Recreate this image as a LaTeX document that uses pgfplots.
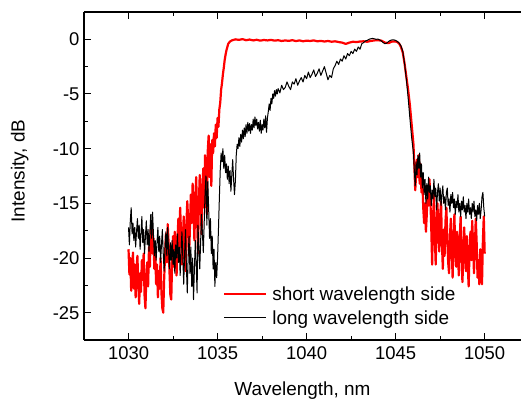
\documentclass[border=0pt]{standalone}
\usepackage{fontspec}
\setmainfont{Liberation Sans}
\usepackage{pgfplots}
\pgfplotsset{compat=1.18}
\begin{document}
\begin{tikzpicture}
\begin{axis}[
 scale only axis, width=437bp, height=328bp,
 xmin=1027.5, xmax=1052.04, ymin=-27.5, ymax=2.5,
 xtick={1030,1035,1040,1045,1050}, ytick={-25,-20,-15,-10,-5,0},
 minor x tick num=1, minor y tick num=1,
 separate axis lines, axis x line*=box, axis y line*=left,
 tick align=inside, xtick pos=both, ytick pos=left, xticklabel pos=bottom,
 major tick length=7bp, minor tick length=4bp,
 every tick/.style={black, line width=1bp},
 axis line style={line width=1.2bp, black, -},
 /pgf/number format/assume math mode=true,
 /pgf/number format/1000 sep={},
 ticklabel style={font=\fontsize{18.5}{22}\selectfont},
 yticklabel style={xshift=-1bp},
 xticklabel style={yshift=-3bp},
 xlabel={Wavelength, nm}, ylabel={Intensity, dB},
 label style={font=\fontsize{19}{22}\selectfont},
 xlabel style={at={(axis description cs:0.5,-0.153)}, anchor=center},
 ylabel style={at={(axis description cs:-0.147,0.515)}, anchor=center, rotate=0},
 legend style={draw=none, fill=none, at={(rel axis cs:0.318,0.169)}, anchor=north west,
   font=\fontsize{19}{22}\selectfont, inner sep=0pt, row sep=4.4bp, cells={anchor=west},
   /tikz/every odd column/.append style={column sep=3bp}},
 legend image code/.code={\draw[#1] (0bp,0bp) -- (42bp,0bp);},
]
\coordinate (SW) at (rel axis cs:0,0);
\coordinate (NE) at (rel axis cs:1,1);
\addplot[red, line width=2.2bp, line join=round] table {
x y
1030.00 -19.2
1030.05 -21.5
1030.10 -20.0
1030.15 -23.0
1030.20 -21.2
1030.25 -19.5
1030.30 -22.8
1030.35 -20.6
1030.40 -23.6
1030.45 -21.0
1030.50 -19.8
1030.55 -22.5
1030.60 -24.2
1030.65 -21.4
1030.70 -23.1
1030.75 -20.2
1030.80 -22.0
1030.85 -19.6
1030.90 -23.4
1030.95 -24.6
1031.00 -21.8
1031.05 -20.4
1031.10 -22.6
1031.15 -19.0
1031.20 -20.8
1031.25 -17.4
1031.30 -16.8
1031.35 -19.6
1031.40 -18.2
1031.45 -21.0
1031.50 -19.4
1031.55 -22.4
1031.60 -20.6
1031.65 -23.6
1031.70 -21.2
1031.75 -22.8
1031.80 -20.0
1031.85 -23.2
1031.90 -24.6
1031.95 -25.0
1032.00 -22.0
1032.05 -19.8
1032.10 -17.8
1032.15 -20.4
1032.20 -16.9
1032.25 -18.6
1032.30 -21.2
1032.35 -23.4
1032.40 -23.8
1032.45 -20.2
1032.50 -18.0
1032.55 -20.8
1032.60 -17.6
1032.65 -19.4
1032.70 -21.6
1032.75 -18.2
1032.80 -16.4
1032.85 -19.0
1032.90 -15.4
1032.95 -17.8
1033.00 -20.6
1033.05 -18.4
1033.10 -16.2
1033.15 -19.6
1033.20 -21.2
1033.25 -17.0
1033.30 -14.8
1033.35 -16.6
1033.40 -19.8
1033.45 -17.2
1033.50 -14.2
1033.55 -16.8
1033.60 -13.2
1033.65 -15.6
1033.70 -18.4
1033.75 -14.6
1033.80 -12.6
1033.85 -16.2
1033.90 -19.6
1033.95 -15.0
1034.00 -12.4
1034.05 -14.2
1034.10 -17.8
1034.15 -13.6
1034.20 -11.8
1034.25 -15.4
1034.30 -10.6
1034.35 -12.8
1034.40 -16.0
1034.45 -10.2
1034.50 -8.8
1034.55 -12.6
1034.60 -9.6
1034.65 -13.4
1034.70 -9.2
1034.75 -10.4
1034.80 -8.6
1034.85 -9.8
1034.90 -7.8
1034.95 -9.0
1035.00 -7.2
1035.05 -8.0
1035.10 -6.4
1035.15 -5.8
1035.20 -4.6
1035.25 -4.0
1035.30 -3.2
1035.35 -2.6
1035.40 -1.9
1035.45 -1.4
1035.50 -1.0
1035.55 -0.7
1035.60 -0.4
1035.70 -0.2
1035.80 -0.1
1035.90 -0.05
1036.0 0.0
1036.2 -0.05
1036.4 0.02
1036.6 -0.08
1036.8 -0.02
1037.0 -0.1
1037.2 -0.04
1037.4 -0.12
1037.6 -0.06
1037.8 -0.1
1038.0 -0.05
1038.2 -0.12
1038.4 -0.08
1038.6 -0.15
1038.8 -0.1
1039.0 -0.14
1039.2 -0.08
1039.4 -0.16
1039.6 -0.1
1039.8 -0.18
1040.0 -0.12
1040.2 -0.15
1040.4 -0.1
1040.6 -0.18
1040.8 -0.14
1041.0 -0.2
1041.2 -0.15
1041.4 -0.22
1041.6 -0.18
1041.8 -0.25
1042.0 -0.3
1042.2 -0.42
1042.4 -0.3
1042.6 -0.22
1042.8 -0.25
1043.0 -0.2
1043.2 -0.18
1043.4 -0.22
1043.6 -0.15
1043.8 -0.1
1044.0 -0.08
1044.2 -0.12
1044.4 -0.3
1044.6 -0.35
1044.8 -0.2
1045.0 -0.2
1045.1 -0.25
1045.2 -0.4
1045.3 -0.7
1045.4 -1.2
1045.5 -2.2
1045.6 -3.4
1045.7 -4.6
1045.8 -6.0
1045.9 -7.8
1046.00 -9.6
1046.05 -11.5
1046.10 -13.8
1046.15 -12.4
1046.20 -11.0
1046.25 -12.6
1046.30 -10.6
1046.35 -13.2
1046.40 -11.4
1046.45 -14.0
1046.50 -12.8
1046.55 -15.4
1046.60 -16.8
1046.65 -15.0
1046.70 -17.6
1046.75 -16.0
1046.80 -13.4
1046.85 -15.2
1046.90 -12.8
1046.95 -14.6
1047.00 -17.2
1047.05 -20.6
1047.10 -16.4
1047.15 -14.2
1047.20 -18.0
1047.25 -20.6
1047.30 -16.8
1047.35 -15.0
1047.40 -17.8
1047.45 -19.4
1047.50 -16.2
1047.55 -14.8
1047.60 -18.6
1047.65 -21.0
1047.70 -17.4
1047.75 -19.8
1047.80 -16.6
1047.85 -15.4
1047.90 -18.2
1047.95 -20.4
1048.00 -21.4
1048.05 -18.0
1048.10 -16.4
1048.15 -19.2
1048.20 -21.8
1048.25 -18.4
1048.30 -16.0
1048.35 -19.6
1048.40 -20.8
1048.45 -17.6
1048.50 -19.8
1048.55 -21.6
1048.60 -18.2
1048.65 -16.2
1048.70 -19.4
1048.75 -22.2
1048.80 -20.0
1048.85 -17.2
1048.90 -19.6
1048.95 -21.2
1049.00 -18.0
1049.05 -20.6
1049.10 -22.6
1049.15 -19.4
1049.20 -17.6
1049.25 -20.2
1049.30 -16.6
1049.35 -18.8
1049.40 -21.4
1049.45 -19.0
1049.50 -16.4
1049.55 -18.6
1049.60 -21.8
1049.65 -20.2
1049.70 -22.4
1049.75 -19.2
1049.80 -21.6
1049.85 -22.4
1049.90 -18.4
1049.95 -16.2
1050.00 -19.6
};
\addlegendentry{short wavelength side}
\addplot[black, line width=1bp, line join=round] table {
x y
1030.00 -17.2
1030.05 -18.8
1030.10 -16.6
1030.15 -15.4
1030.20 -17.8
1030.25 -16.8
1030.30 -18.4
1030.35 -17.2
1030.40 -19.0
1030.45 -17.6
1030.50 -16.4
1030.55 -18.2
1030.60 -17.0
1030.65 -19.2
1030.70 -17.8
1030.75 -16.2
1030.80 -18.6
1030.85 -17.4
1030.90 -19.6
1030.95 -18.0
1031.00 -16.6
1031.05 -18.8
1031.10 -17.4
1031.15 -19.4
1031.20 -17.6
1031.25 -16.0
1031.30 -18.2
1031.35 -15.8
1031.40 -17.8
1031.45 -19.8
1031.50 -18.4
1031.55 -20.2
1031.60 -18.6
1031.65 -17.2
1031.70 -19.4
1031.75 -18.0
1031.80 -20.4
1031.85 -18.8
1031.90 -17.4
1031.95 -19.6
1032.00 -21.2
1032.05 -19.0
1032.10 -17.6
1032.15 -19.8
1032.20 -17.2
1032.25 -19.4
1032.30 -21.0
1032.35 -18.6
1032.40 -20.2
1032.45 -18.4
1032.50 -20.6
1032.55 -19.2
1032.60 -21.4
1032.65 -18.8
1032.70 -20.0
1032.75 -17.8
1032.80 -20.4
1032.85 -19.0
1032.90 -21.6
1032.95 -19.4
1033.00 -17.6
1033.05 -20.0
1033.10 -22.4
1033.15 -19.6
1033.20 -17.4
1033.25 -20.8
1033.30 -23.2
1033.35 -19.8
1033.40 -18.0
1033.45 -21.4
1033.50 -19.0
1033.55 -22.6
1033.60 -20.0
1033.65 -23.8
1033.70 -21.0
1033.75 -18.4
1033.80 -20.6
1033.85 -23.2
1033.90 -17.0
1034.00 -21.0
1034.10 -16.0
1034.20 -19.5
1034.30 -14.0
1034.35 -12.5
1034.40 -17.0
1034.45 -13.0
1034.50 -15.5
1034.55 -18.2
1034.60 -16.4
1034.65 -19.6
1034.70 -18.0
1034.75 -21.0
1034.80 -19.2
1034.85 -22.6
1034.90 -20.4
1034.95 -21.8
1035.00 -20.0
1035.05 -17.4
1035.10 -14.6
1035.15 -12.0
1035.20 -10.4
1035.25 -11.2
1035.30 -10.0
1035.35 -11.8
1035.40 -10.6
1035.45 -12.2
1035.50 -11.4
1035.55 -12.8
1035.60 -11.6
1035.65 -13.2
1035.70 -12.0
1035.75 -13.9
1035.80 -12.4
1035.85 -11.0
1035.90 -12.8
1035.95 -14.2
1036.00 -13.0
1036.05 -10.6
1036.10 -9.6
1036.15 -10.0
1036.20 -9.0
1036.25 -9.8
1036.30 -8.7
1036.35 -9.4
1036.40 -8.3
1036.45 -9.1
1036.50 -8.1
1036.55 -8.9
1036.60 -7.8
1036.65 -8.6
1036.70 -7.6
1036.75 -8.4
1036.80 -7.7
1036.85 -8.6
1036.90 -7.8
1036.95 -8.3
1037.00 -7.3
1037.05 -8.1
1037.10 -7.1
1037.15 -7.9
1037.20 -7.3
1037.25 -8.2
1037.30 -7.6
1037.35 -8.4
1037.40 -7.4
1037.45 -8.6
1037.50 -7.8
1037.55 -8.3
1037.60 -7.3
1037.65 -8.1
1037.70 -7.0
1037.75 -8.5
1037.80 -7.2
1037.85 -6.6
1037.90 -5.9
1037.95 -6.5
1038.00 -5.4
1038.05 -5.9
1038.10 -5.0
1038.15 -5.4
1038.20 -4.7
1038.25 -5.2
1038.30 -4.6
1038.35 -5.0
1038.40 -4.5
1038.5 -4.9
1038.6 -4.2
1038.7 -4.6
1038.8 -4.4
1038.9 -3.9
1039.0 -4.3
1039.1 -4.6
1039.2 -3.9
1039.3 -4.1
1039.4 -3.6
1039.5 -4.2
1039.6 -3.8
1039.7 -3.5
1039.8 -3.9
1039.9 -3.3
1040.0 -3.6
1040.1 -3.0
1040.2 -3.5
1040.3 -3.2
1040.4 -2.8
1040.5 -3.4
1040.6 -3.1
1040.7 -2.7
1040.8 -3.3
1040.9 -2.9
1041.0 -2.5
1041.1 -3.1
1041.2 -3.7
1041.3 -3.3
1041.4 -3.5
1041.5 -2.7
1041.6 -2.4
1041.7 -2.0
1041.8 -2.3
1041.9 -1.8
1042.0 -2.0
1042.1 -1.5
1042.2 -1.8
1042.3 -1.3
1042.4 -1.5
1042.5 -1.1
1042.6 -1.3
1042.7 -0.9
1042.8 -1.1
1042.9 -0.7
1043.0 -0.9
1043.1 -0.4
1043.2 -0.3
1043.3 -0.15
1043.4 -0.1
1043.5 0.0
1043.6 0.05
1043.7 0.08
1043.8 0.05
1043.9 0.0
1044.0 0.02
1044.1 -0.05
1044.2 -0.15
1044.3 -0.3
1044.4 -0.4
1044.5 -0.35
1044.6 -0.2
1044.7 -0.1
1044.8 -0.05
1044.9 -0.05
1045.0 -0.1
1045.1 -0.2
1045.2 -0.35
1045.3 -0.6
1045.4 -1.1
1045.5 -2.2
1045.6 -3.6
1045.7 -5.3
1045.8 -7.2
1045.9 -9.0
1046.00 -10.4
1046.05 -12.0
1046.10 -13.4
1046.15 -11.2
1046.20 -12.4
1046.25 -10.6
1046.30 -11.8
1046.35 -10.4
1046.40 -12.6
1046.45 -11.4
1046.50 -13.6
1046.55 -12.2
1046.60 -14.2
1046.65 -12.8
1046.70 -15.0
1046.75 -13.2
1046.80 -14.6
1046.85 -12.6
1046.90 -14.0
1046.95 -13.4
1047.00 -15.2
1047.05 -13.8
1047.10 -14.6
1047.15 -12.8
1047.20 -14.4
1047.25 -13.6
1047.30 -15.6
1047.35 -14.0
1047.40 -13.2
1047.45 -14.8
1047.50 -13.6
1047.55 -15.2
1047.60 -14.2
1047.65 -13.4
1047.70 -15.0
1047.75 -14.4
1047.80 -15.6
1047.85 -14.0
1047.90 -13.6
1047.95 -15.2
1048.00 -14.6
1048.05 -15.8
1048.10 -14.2
1048.15 -15.0
1048.20 -14.0
1048.25 -15.4
1048.30 -14.6
1048.35 -16.0
1048.40 -14.8
1048.45 -15.4
1048.50 -14.2
1048.55 -15.8
1048.60 -15.0
1048.65 -16.2
1048.70 -14.8
1048.75 -15.6
1048.80 -14.4
1048.85 -15.8
1048.90 -15.2
1048.95 -16.4
1049.00 -15.0
1049.05 -15.8
1049.10 -14.6
1049.15 -16.0
1049.20 -15.4
1049.25 -16.4
1049.30 -15.0
1049.35 -15.8
1049.40 -14.8
1049.45 -16.2
1049.50 -15.6
1049.55 -16.6
1049.60 -15.2
1049.65 -16.0
1049.70 -15.0
1049.75 -16.4
1049.80 -15.6
1049.85 -14.4
1049.90 -14.0
1049.95 -15.4
1050.00 -16.2
};
\addlegendentry{long wavelength side}
\end{axis}
\pgfresetboundingbox
\path[use as bounding box] ([shift={(-84bp,-59bp)}]SW) rectangle ([shift={(0bp,12bp)}]NE);
\end{tikzpicture}
\end{document}
